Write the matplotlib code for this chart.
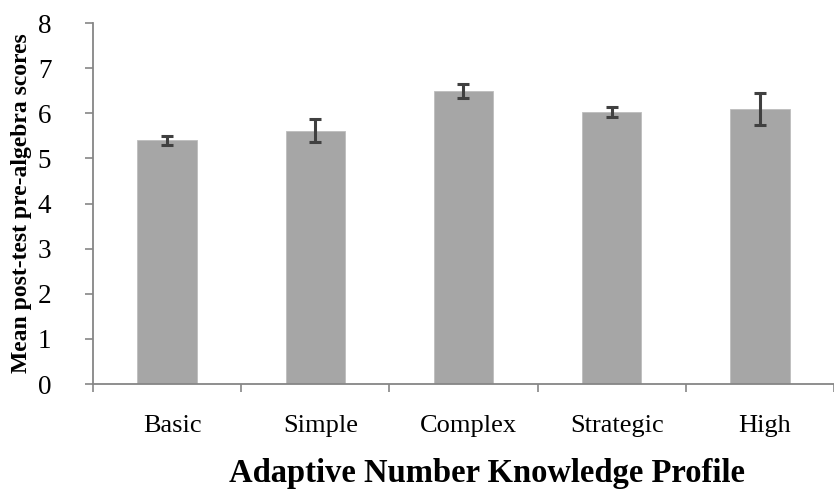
import matplotlib
matplotlib.use("Agg")
import matplotlib.pyplot as plt
import matplotlib.transforms as mtransforms
import numpy as np

categories = ["Basic", "Simple", "Complex", "Strategic", "High"]
means = [5.40, 5.62, 6.50, 6.03, 6.10]
errors = [0.10, 0.26, 0.16, 0.12, 0.35]
yticks = [0, 1, 2, 3, 4, 5, 6, 7, 8]

plt.rcParams['font.family'] = ['Liberation Serif', 'DejaVu Serif']

fig = plt.figure(figsize=(8.34, 4.93), dpi=100)
ax = fig.add_axes([0.1115, 0.221, 0.8885, 0.732])

x = np.arange(len(categories))
ax.bar(x, means, width=0.4, color='#a6a6a6', edgecolor='#bdbdbd', linewidth=0.6, zorder=2)
ax.errorbar(x, means, yerr=errors, fmt='none', ecolor='#404040', elinewidth=2.2,
            capsize=4.5, capthick=2.2, zorder=3)

ax.set_xlim(-0.5, len(categories) - 0.5)
ax.set_ylim(0, 8)
ax.set_yticks(yticks)
ax.set_yticklabels([str(v) for v in yticks], fontsize=19.5)
ax.set_xticks(x)
ax.set_xticklabels(categories, fontsize=19)
ax.set_xticks(np.arange(len(categories) + 1) - 0.5, minor=True)
ax.tick_params(axis='x', which='major', length=0, pad=22)
ax.tick_params(axis='x', which='minor', length=6, width=1.2, color='#868686', direction='out')
ax.tick_params(axis='y', length=6, width=1.2, color='#868686', direction='out', pad=24)

shift = mtransforms.ScaledTranslation(5 / 100, 0, fig.dpi_scale_trans)
for lbl in ax.get_xticklabels():
    lbl.set_transform(lbl.get_transform() + shift)

for s in ['top', 'right']:
    ax.spines[s].set_visible(False)
for s in ['left', 'bottom']:
    ax.spines[s].set_color('#868686')
    ax.spines[s].set_linewidth(1.3)

ax.set_ylabel('Mean post-test pre-algebra scores', fontsize=17, fontweight='bold')
ax.yaxis.set_label_coords(-0.082, 0.5)
ax.set_xlabel('Adaptive Number Knowledge Profile', fontsize=23.5, fontweight='bold')
ax.xaxis.set_label_coords(0.532, -0.205)

fig.savefig('out.png', dpi=100)
